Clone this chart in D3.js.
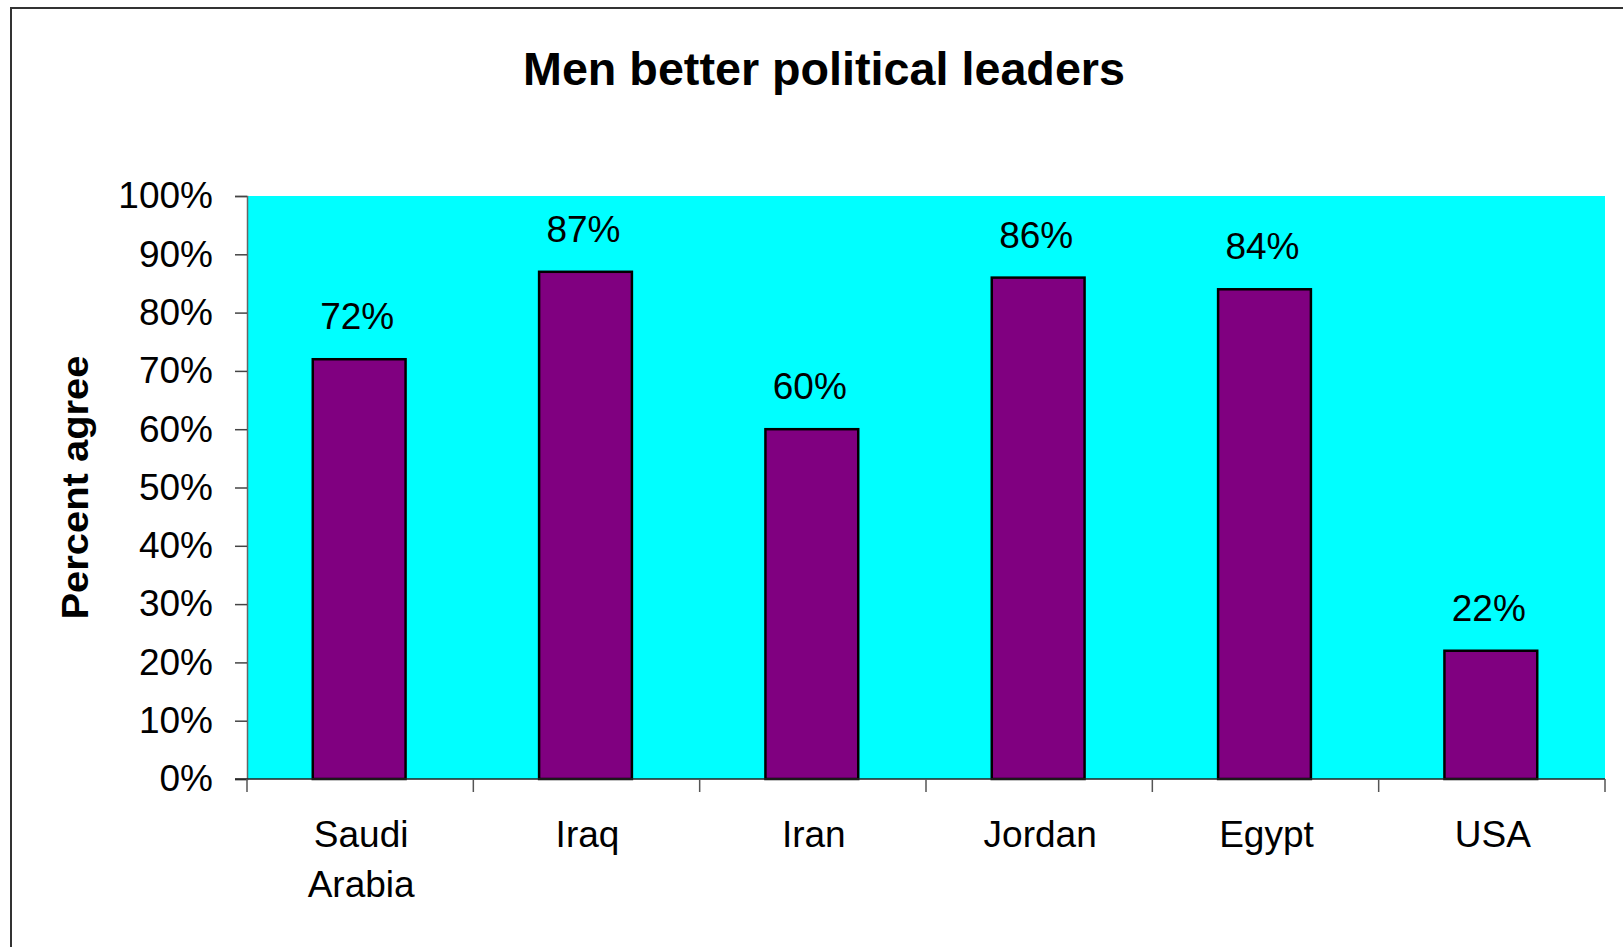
<!DOCTYPE html>
<html>
<head>
<meta charset="utf-8">
<script src="https://cdn.jsdelivr.net/npm/d3@7"></script>
<style>
  html, body { margin: 0; padding: 0; background: #fff; }
  svg { display: block; font-family: Arial, "Liberation Sans", sans-serif; }
</style>
</head>
<body>
<svg id="chart" width="1623" height="947"></svg>
<script>
const categories = [["Saudi", "Arabia"], ["Iraq"], ["Iran"], ["Jordan"], ["Egypt"], ["USA"]];
const values = [72, 87, 60, 86, 84, 22];
const yTicks = [0, 10, 20, 30, 40, 50, 60, 70, 80, 90, 100];
const title = "Men better political leaders";
const yTitle = "Percent agree";

const svg = d3.select("#chart");
const plot = { left: 247, right: 1605, top: 196, bottom: 779 };

// outer frame
svg.append("rect")
  .attr("x", 11).attr("y", 8)
  .attr("width", 1640).attr("height", 960)
  .attr("fill", "none").attr("stroke", "#333").attr("stroke-width", 2);

const keys = categories.map(c => c.join(" "));
const x = d3.scaleBand().domain(keys).range([plot.left, plot.right]).padding(0);
const y = d3.scaleLinear().domain([0, 100]).range([plot.bottom, plot.top]);

// plot area background
svg.append("rect")
  .attr("x", plot.left).attr("y", plot.top)
  .attr("width", plot.right - plot.left).attr("height", plot.bottom - plot.top)
  .attr("fill", "#00FFFF");

// title
svg.append("text")
  .attr("x", 824).attr("y", 85)
  .attr("text-anchor", "middle")
  .attr("font-size", 47).attr("font-weight", "bold")
  .attr("textLength", 602).attr("lengthAdjust", "spacingAndGlyphs")
  .text(title);

// y axis title
svg.append("text")
  .attr("transform", `translate(88, ${(plot.top + plot.bottom) / 2}) rotate(-90)`)
  .attr("text-anchor", "middle")
  .attr("font-size", 37).attr("font-weight", "bold")
  .attr("textLength", 264).attr("lengthAdjust", "spacingAndGlyphs")
  .text(yTitle);

// bars
const barW = x.bandwidth() * 0.41;
svg.append("g").selectAll("rect")
  .data(values)
  .join("rect")
  .attr("x", (d, i) => x(keys[i]) + (x.bandwidth() - barW) / 2 - 1)
  .attr("y", d => y(d))
  .attr("width", barW)
  .attr("height", d => y(0) - y(d))
  .attr("fill", "#800080")
  .attr("stroke", "#000")
  .attr("stroke-width", 2.5);

// value labels
svg.append("g").selectAll("text")
  .data(values)
  .join("text")
  .attr("x", (d, i) => x(keys[i]) + x.bandwidth() / 2 - 3)
  .attr("y", d => y(d) - 30)
  .attr("text-anchor", "middle")
  .attr("font-size", 37)
  .text(d => d + "%");

// y axis
const yAxis = d3.axisLeft(y).tickValues(yTicks).tickSize(12).tickPadding(22)
  .tickFormat(d => d + "%");
const gy = svg.append("g").attr("transform", `translate(${plot.left},0)`).call(yAxis);
gy.select(".domain").attr("stroke", "#666").attr("stroke-width", 1.5);
gy.selectAll(".tick line").attr("stroke", "#444").attr("stroke-width", 1.5);
gy.selectAll(".tick text")
  .attr("font-size", 37).attr("font-family", "Arial, 'Liberation Sans', sans-serif")
  .attr("fill", "#000").attr("dy", "0.32em");

// x axis
const gx = svg.append("g").attr("transform", `translate(0,${plot.bottom})`);
gx.append("line")
  .attr("x1", plot.left - 12).attr("x2", plot.right)
  .attr("y1", 0).attr("y2", 0)
  .attr("stroke", "#222").attr("stroke-width", 1.5);
const boundaries = keys.map(k => x(k)).concat([x(keys[keys.length - 1]) + x.bandwidth()]);
gx.selectAll("line.tk")
  .data(boundaries)
  .join("line")
  .attr("class", "tk")
  .attr("x1", d => d).attr("x2", d => d)
  .attr("y1", 0).attr("y2", 13)
  .attr("stroke", "#555").attr("stroke-width", 1.5);

const labels = gx.selectAll("text.cat")
  .data(categories)
  .join("text")
  .attr("class", "cat")
  .attr("text-anchor", "middle")
  .attr("font-size", 37)
  .attr("x", (d, i) => x(keys[i]) + x.bandwidth() / 2 + 1)
  .attr("y", 68);
labels.selectAll("tspan")
  .data(d => d)
  .join("tspan")
  .attr("x", function () { return d3.select(this.parentNode).attr("x"); })
  .attr("dy", (d, i) => i === 0 ? 0 : 50)
  .text(d => d);
</script>
</body>
</html>
